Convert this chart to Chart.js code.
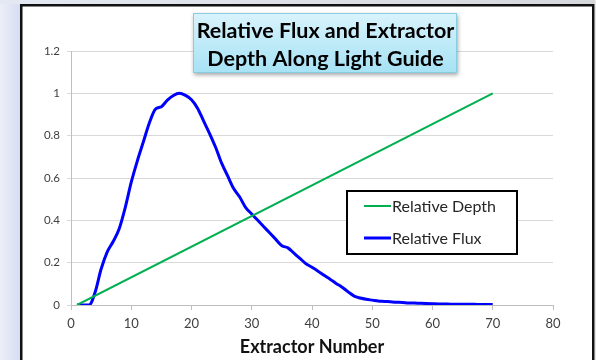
<!DOCTYPE html>
<html>
<head>
<meta charset="utf-8">
<script src="https://cdn.jsdelivr.net/npm/chart.js@4/dist/chart.umd.min.js"></script>
<style>
  html, body { margin: 0; padding: 0; background: #fff; }
  #wrap { width: 596px; height: 360px; }
</style>
</head>
<body>
<div id="wrap"><canvas id="c" width="596" height="360"></canvas></div>
<script>
// Extractor positions along the light guide
const extractors = [
  1, 2, 3, 4, 5, 6, 7, 8, 9, 10,
  11, 12, 13, 14, 15, 16, 17, 18, 19, 20,
  21, 22, 23, 24, 25, 26, 27, 28, 29, 30,
  31, 32, 33, 34, 35, 36, 37, 38, 39, 40,
  41, 42, 43, 44, 45, 46, 47, 48, 49, 50,
  51, 52, 53, 54, 55, 56, 57, 58, 59, 60,
  61, 62, 63, 64, 65, 66, 67, 68, 69, 70
];

// Relative flux reaching each extractor
const relativeFlux = [
  0, 0, 0, 0.06, 0.17, 0.25, 0.30, 0.36, 0.46, 0.58,
  0.68, 0.77, 0.86, 0.925, 0.937, 0.968, 0.99, 1.0, 0.99, 0.97,
  0.93, 0.87, 0.81, 0.745, 0.67, 0.61, 0.55, 0.51, 0.46, 0.43,
  0.40, 0.37, 0.34, 0.31, 0.28, 0.27, 0.245, 0.22, 0.195, 0.178,
  0.16, 0.14, 0.122, 0.102, 0.084, 0.062, 0.042, 0.033, 0.027, 0.023,
  0.019, 0.017, 0.015, 0.013, 0.012, 0.010, 0.009, 0.008, 0.007, 0.006,
  0.005, 0.005, 0.004, 0.004, 0.003, 0.003, 0.003, 0.002, 0.002, 0.002
];

// Relative extractor depth (first and last extractor)
const depthExtractors = [1, 70];
const relativeDepth = [0, 1];

const xTicks = [0, 10, 20, 30, 40, 50, 60, 70, 80];
const yTicks = [0, 0.2, 0.4, 0.6, 0.8, 1, 1.2];

const titleLines = ['Relative Flux and Extractor', 'Depth Along Light Guide'];
const xTitle = 'Extractor Number';

const FONT = 'Lato, "Open Sans", sans-serif';

// Page background, frame, title box and legend box
const decor = {
  id: 'decor',
  beforeDraw(chart) {
    const ctx = chart.ctx;
    const W = chart.width, H = chart.height;
    ctx.save();
    ctx.fillStyle = '#ffffff';
    ctx.fillRect(0, 0, W, H);
    // left band
    let g = ctx.createLinearGradient(0, 0, 20, 0);
    g.addColorStop(0, '#eceff9');
    g.addColorStop(1, '#d6ddf1');
    ctx.fillStyle = g;
    ctx.fillRect(0, 0, 20, H);
    // top band
    g = ctx.createLinearGradient(0, 0, W, 0);
    g.addColorStop(0, '#e4e8f2');
    g.addColorStop(1, '#d6d8dc');
    ctx.fillStyle = g;
    ctx.fillRect(0, 0, W, 4);
    ctx.fillStyle = '#e8e8e8';
    ctx.fillRect(595, 0, 1, H);
    // frame
    ctx.fillStyle = '#ffffff';
    ctx.fillRect(21, 5, 572, 360);
    ctx.strokeStyle = '#111111';
    ctx.lineWidth = 2.5;
    ctx.strokeRect(21.25, 5.25, 572, 360);
    ctx.restore();
  },
  afterDraw(chart) {
    const ctx = chart.ctx;
    ctx.save();
    // title box
    const bx = 193, by = 13, bw = 264, bh = 60;
    ctx.shadowColor = 'rgba(0,0,0,0.35)';
    ctx.shadowBlur = 4;
    ctx.shadowOffsetX = 1;
    ctx.shadowOffsetY = 2;
    let g = ctx.createLinearGradient(0, by, 0, by + bh);
    g.addColorStop(0, '#d9f3fc');
    g.addColorStop(1, '#a6e2f5');
    ctx.fillStyle = g;
    ctx.fillRect(bx, by, bw, bh);
    ctx.shadowColor = 'transparent';
    ctx.strokeStyle = '#86cde0';
    ctx.lineWidth = 1;
    ctx.strokeRect(bx + 0.5, by + 0.5, bw - 1, bh - 1);
    ctx.fillStyle = '#000000';
    ctx.font = 'bold 21.5px ' + FONT;
    ctx.textAlign = 'center';
    ctx.textBaseline = 'alphabetic';
    ctx.fillText(titleLines[0], bx + bw / 2 + 0.5, 38);
    ctx.fillText(titleLines[1], bx + bw / 2 + 0.5, 66);

    // legend box
    const lx = 347, ly = 191, lw = 170, lh = 63;
    ctx.fillStyle = '#ffffff';
    ctx.fillRect(lx, ly, lw, lh);
    ctx.strokeStyle = '#000000';
    ctx.lineWidth = 2;
    ctx.strokeRect(lx, ly, lw, lh);
    const rows = [206, 238];
    ctx.font = '16px ' + FONT;
    ctx.textAlign = 'left';
    ctx.textBaseline = 'middle';
    chart.data.datasets.forEach((ds, i) => {
      ctx.strokeStyle = ds.borderColor;
      ctx.lineWidth = ds.borderWidth;
      ctx.beginPath();
      ctx.moveTo(364, rows[i]);
      ctx.lineTo(391, rows[i]);
      ctx.stroke();
      ctx.fillStyle = '#262626';
      ctx.fillText(ds.label, 392, rows[i] + 1);
    });
    ctx.restore();
  }
};

new Chart(document.getElementById('c'), {
  type: 'line',
  data: {
    datasets: [
      {
        label: 'Relative Depth',
        data: depthExtractors.map((x, i) => ({ x, y: relativeDepth[i] })),
        borderColor: '#00b050',
        borderWidth: 2,
        pointRadius: 0,
        tension: 0
      },
      {
        label: 'Relative Flux',
        data: extractors.map((x, i) => ({ x, y: relativeFlux[i] })),
        borderColor: '#0000ff',
        borderWidth: 3,
        pointRadius: 0,
        cubicInterpolationMode: 'monotone'
      }
    ]
  },
  options: {
    responsive: false,
    animation: false,
    devicePixelRatio: 1,
    layout: { padding: { left: 20, right: 43, top: 51, bottom: 0 } },
    plugins: {
      legend: { display: false },
      title: { display: false },
      tooltip: { enabled: false }
    },
    scales: {
      x: {
        type: 'linear',
        min: 0,
        max: 80,
        afterBuildTicks(scale) { scale.ticks = xTicks.map(v => ({ value: v })); },
        afterFit(scale) { scale.height = 55; },
        grid: {
          drawOnChartArea: false,
          drawTicks: true,
          tickLength: 5,
          color: '#bfbfbf'
        },
        border: { color: '#bfbfbf' },
        ticks: {
          padding: 6,
          color: '#404040',
          font: { family: FONT, size: 13 },
          maxRotation: 0,
          callback: v => String(v)
        },
        title: {
          display: true,
          text: xTitle,
          color: '#111111',
          font: { family: FONT, size: 18, weight: 'bold' },
          padding: { top: 0, bottom: 2 }
        }
      },
      y: {
        type: 'linear',
        min: 0,
        max: 1.2,
        afterBuildTicks(scale) { scale.ticks = yTicks.map(v => ({ value: v })); },
        afterFit(scale) { scale.width = 51; },
        grid: {
          color: '#d9d9d9',
          tickLength: 4,
          lineWidth: 1
        },
        border: { color: '#bfbfbf' },
        ticks: {
          padding: 7,
          color: '#404040',
          font: { family: FONT, size: 11.5 },
          callback: v => String(v)
        }
      }
    }
  },
  plugins: [decor]
});
</script>
</body>
</html>
